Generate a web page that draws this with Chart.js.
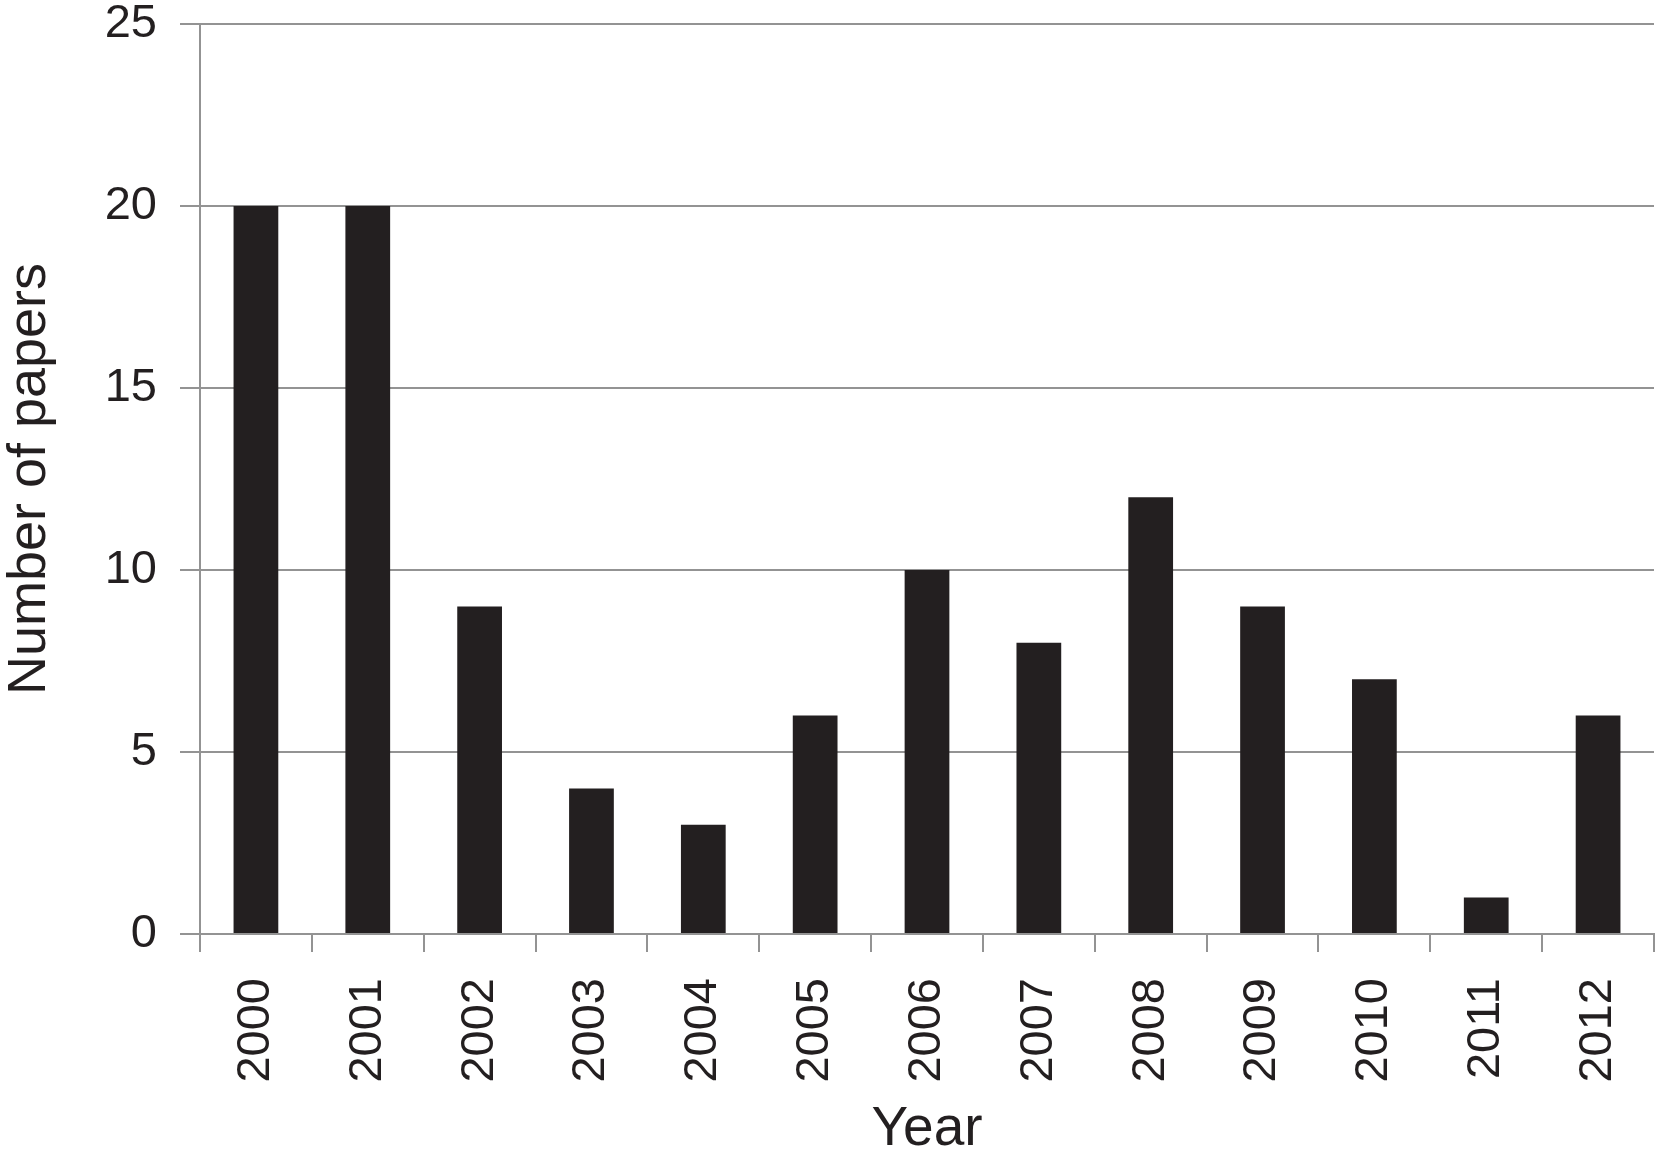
<!DOCTYPE html>
<html>
<head>
<meta charset="utf-8">
<script src="https://cdn.jsdelivr.net/npm/chart.js@4/dist/chart.umd.min.js"></script>
<style>
  html, body { margin: 0; padding: 0; background: #ffffff; }
  #wrap { width: 1668px; height: 1173px; position: relative; }
</style>
</head>
<body>
<div id="wrap"><canvas id="c" width="1668" height="1173"></canvas></div>
<script>
const years = ["2000","2001","2002","2003","2004","2005","2006","2007","2008","2009","2010","2011","2012"];
const papers = [20, 20, 9, 4, 3, 6, 10, 8, 12, 9, 7, 1, 6];
const yTicks = [0, 5, 10, 15, 20, 25];
const xTitle = "Year";
const yTitle = "Number of papers";

const FONT = "'Liberation Sans', Arial, Helvetica, sans-serif";
const INK = "#231f20";
const GRID = "#939393";

new Chart(document.getElementById('c'), {
  type: 'bar',
  data: {
    labels: years,
    datasets: [{
      data: papers,
      backgroundColor: INK,
      borderWidth: 0,
      barPercentage: 0.4,
      categoryPercentage: 1.0
    }]
  },
  options: {
    responsive: false,
    animation: false,
    devicePixelRatio: 1,
    layout: { padding: { top: 24, right: 14, bottom: 0, left: 0 } },
    plugins: { legend: { display: false }, tooltip: { enabled: false } },
    scales: {
      x: {
        grid: {
          offset: true,
          drawOnChartArea: false,
          drawTicks: true,
          tickLength: 18,
          color: GRID,
          lineWidth: 2
        },
        border: { display: true, color: GRID, width: 2 },
        ticks: {
          color: INK,
          font: { family: FONT, size: 47, lineHeight: 1 },
          minRotation: 90,
          maxRotation: 90,
          padding: 26,
          autoSkip: false
        },
        title: {
          display: true,
          text: xTitle,
          color: INK,
          font: { family: FONT, size: 55, lineHeight: 1 },
          padding: { top: 0, bottom: 16 }
        },
        afterFit: (s) => { s.height = 239; s.paddingLeft = 0; s.paddingRight = 0; }
      },
      y: {
        min: 0,
        max: 25,
        afterBuildTicks: (s) => { s.ticks = yTicks.map(v => ({ value: v })); },
        grid: {
          drawTicks: true,
          tickLength: 20,
          color: GRID,
          lineWidth: 2
        },
        border: { display: true, color: GRID, width: 2 },
        ticks: {
          color: INK,
          font: { family: FONT, size: 47, lineHeight: 1 },
          padding: 23
        },
        title: {
          display: true,
          text: yTitle,
          color: INK,
          font: { family: FONT, size: 54, lineHeight: 1 },
          padding: { top: 3, bottom: 0 }
        },
        afterFit: (s) => { s.width = 200; s.paddingTop = 0; s.paddingBottom = 0; }
      }
    }
  }
});
</script>
</body>
</html>
